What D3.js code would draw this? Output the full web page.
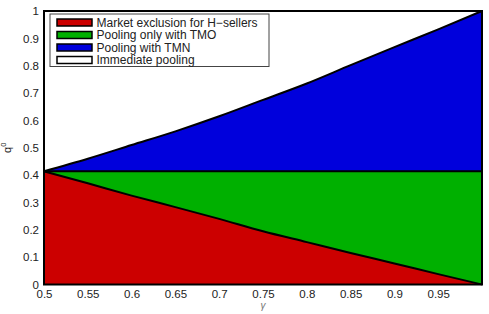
<!DOCTYPE html>
<html>
<head>
<meta charset="utf-8">
<script src="https://cdn.jsdelivr.net/npm/d3@7"></script>
<style>
  body { margin: 0; background: #fff; }
  text { font-family: "Liberation Sans", Arial, sans-serif; }
</style>
</head>
<body>
<svg id="chart" width="489" height="314"></svg>
<script>
// gamma grid and the three thresholds on q^0
var gammaVals = [0.5, 0.55, 0.6, 0.65, 0.7, 0.75, 0.8, 0.85, 0.9, 0.95, 1.0];
var exclusionVals = [0.414, 0.37, 0.325, 0.283, 0.24, 0.195, 0.155, 0.115, 0.077, 0.038, 0.0];
var tmoVals = [0.414, 0.414, 0.414, 0.414, 0.414, 0.414, 0.414, 0.414, 0.414, 0.414, 0.414];
var tmnVals = [0.414, 0.46, 0.51, 0.56, 0.615, 0.675, 0.735, 0.802, 0.868, 0.933, 1.0];

var xTicks = [0.5, 0.55, 0.6, 0.65, 0.7, 0.75, 0.8, 0.85, 0.9, 0.95];
var yTicks = [0, 0.1, 0.2, 0.3, 0.4, 0.5, 0.6, 0.7, 0.8, 0.9, 1];

var legendLabels = ["Market exclusion for H\u2212sellers", "Pooling only with TMO", "Pooling with TMN", "Immediate pooling"];
var legendColors = ["#cc0000", "#00b000", "#0000dc", "#ffffff"];

var svg = d3.select("#chart");
var margin = { top: 11, right: 7, bottom: 29.5, left: 44 };
var width = 489 - margin.left - margin.right;
var height = 314 - margin.top - margin.bottom;

var g = svg.append("g")
    .attr("transform", "translate(" + margin.left + "," + margin.top + ")");

var x = d3.scaleLinear().domain([0.5, 1]).range([0, width]);
var y = d3.scaleLinear().domain([0, 1]).range([height, 0]);

var rows = gammaVals.map(function (gm, i) {
    return { g: gm, red: exclusionVals[i], green: tmoVals[i], blue: tmnVals[i] };
});

// filled regions, bottom to top
var bands = [
    { lo: function (d) { return 0; }, hi: function (d) { return d.red; }, color: legendColors[0] },
    { lo: function (d) { return d.red; }, hi: function (d) { return d.green; }, color: legendColors[1] },
    { lo: function (d) { return d.green; }, hi: function (d) { return d.blue; }, color: legendColors[2] }
];

bands.forEach(function (b) {
    var area = d3.area()
        .curve(d3.curveMonotoneX)
        .x(function (d) { return x(d.g); })
        .y0(function (d) { return y(b.lo(d)); })
        .y1(function (d) { return y(b.hi(d)); });
    g.append("path")
        .datum(rows)
        .attr("fill", b.color)
        .attr("d", area);
});

// boundary lines
["red", "green", "blue"].forEach(function (key) {
    var line = d3.line()
        .curve(d3.curveMonotoneX)
        .x(function (d) { return x(d.g); })
        .y(function (d) { return y(d[key]); });
    g.append("path")
        .datum(rows)
        .attr("fill", "none")
        .attr("stroke", "#000")
        .attr("stroke-width", 2)
        .attr("d", line);
});

// axes
var xAxis = g.append("g")
    .attr("transform", "translate(0," + height + ")")
    .call(d3.axisBottom(x).tickValues(xTicks).tickSize(0).tickPadding(5).tickFormat(d3.format("")));
var yAxis = g.append("g")
    .call(d3.axisLeft(y).tickValues(yTicks).tickSize(0).tickPadding(5).tickFormat(d3.format("")));

[xAxis, yAxis].forEach(function (ax) {
    ax.select(".domain").remove();
    ax.selectAll("text").attr("font-size", 11.5).attr("fill", "#222")
        .style("font-family", "'Liberation Sans', Arial, sans-serif");
});

// axes box
g.append("rect")
    .attr("x", 0).attr("y", 0)
    .attr("width", width).attr("height", height)
    .attr("fill", "none")
    .attr("stroke", "#000")
    .attr("stroke-width", 2);

// axis labels
g.append("text")
    .attr("x", x(0.75))
    .attr("y", height + 24)
    .attr("text-anchor", "middle")
    .attr("font-size", 10)
    .attr("fill", "#777")
    .style("font-style", "italic")
    .text("\u03b3");

var yl = svg.append("text")
    .attr("transform", "translate(11," + (margin.top + y(0.5)) + ") rotate(-90)")
    .attr("text-anchor", "middle")
    .attr("font-size", 11)
    .attr("fill", "#222");
yl.append("tspan").text("q");
yl.append("tspan").attr("dy", -5).attr("font-size", 7.5).text("0");

// legend
var legend = svg.append("g").attr("transform", "translate(50,14)");
legend.append("rect")
    .attr("width", 219).attr("height", 52.5)
    .attr("fill", "#fff")
    .attr("stroke", "#444")
    .attr("stroke-width", 1);

var items = legend.selectAll(".legend-item")
    .data(legendLabels)
    .enter()
    .append("g")
    .attr("class", "legend-item")
    .attr("transform", function (d, i) { return "translate(0," + (8.5 + i * 12.5) + ")"; });

items.append("rect")
    .attr("x", 7).attr("y", -3.5)
    .attr("width", 35).attr("height", 7)
    .attr("fill", function (d, i) { return legendColors[i]; })
    .attr("stroke", "#000")
    .attr("stroke-width", 1.5);

items.append("text")
    .attr("x", 46.5)
    .attr("y", 0)
    .attr("dy", "0.35em")
    .attr("font-size", 12)
    .attr("fill", "#222")
    .text(function (d) { return d; });
</script>
</body>
</html>
